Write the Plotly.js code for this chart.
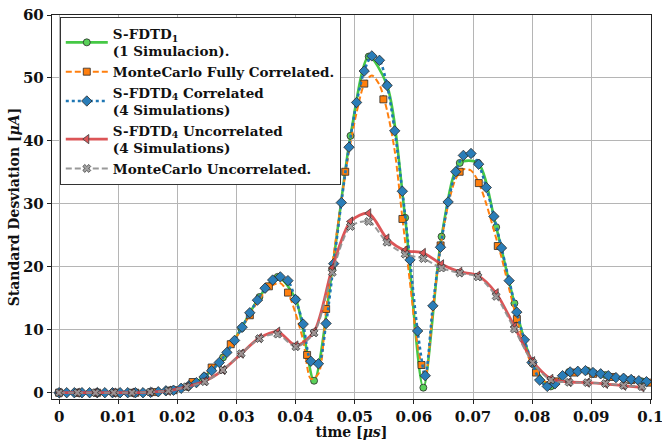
<!DOCTYPE html>
<html>
<head>
<meta charset="utf-8">
<script src="https://cdn.plot.ly/plotly-3.0.1.min.js"></script>
<style>html,body{margin:0;padding:0;background:#fff;}#chart{width:662px;height:440px;}</style>
</head>
<body>
<div id="chart"></div>
<script>
// Dense time grid (S-FDTD4 correlated samples / MonteCarlo fully correlated curve)
const tDense = [0, 0.00129, 0.00258, 0.00387, 0.00516, 0.00645, 0.00774, 0.00903, 0.01032, 0.01161,
  0.0129, 0.01419, 0.01548, 0.01677, 0.01806, 0.01935, 0.02064, 0.02193, 0.02322, 0.02451,
  0.0258, 0.02709, 0.02838, 0.02967, 0.03096, 0.03225, 0.03354, 0.03483, 0.03612, 0.03741,
  0.0387, 0.03999, 0.04128, 0.04257, 0.04386, 0.04515, 0.04644, 0.04773, 0.04902, 0.05031,
  0.0516, 0.05289, 0.05418, 0.05547, 0.05676, 0.05805, 0.05934, 0.06063, 0.06192, 0.06321,
  0.0645, 0.06579, 0.06708, 0.06837, 0.06966, 0.07095, 0.07224, 0.07353, 0.07482, 0.07611,
  0.0774, 0.07869, 0.07998, 0.08127, 0.08256, 0.08385, 0.08514, 0.08643, 0.08772, 0.08901,
  0.0903, 0.09159, 0.09288, 0.09417, 0.09546, 0.09675, 0.09804, 0.09933];

const sfdtd4Corr = [0, 0, 0, 0, 0, 0, 0, 0, 0, 0,
  0, 0, 0.05, 0.15, 0.3, 0.4, 0.7, 1.1, 1.6, 2.5,
  3.5, 4.8, 6.4, 8.3, 10.4, 12.7, 14.7, 16.6, 17.9, 18.4,
  17.8, 14.8, 10.9, 5.0, 4.6, 11.0, 20.5, 30.2, 39.0, 46.1,
  51.1, 53.5, 52.8, 48.8, 41.6, 32.0, 21.1, 9.8, 2.7, 13.8,
  23.1, 30.3, 35.1, 37.7, 38.0, 36.3, 32.6, 28.0, 23.0, 17.8,
  12.8, 8.4, 4.8, 2.0, 1.0, 1.4, 2.7, 3.3, 3.4, 3.5,
  3.2, 3.0, 2.7, 2.4, 2.3, 2.1, 1.9, 1.75];

const mcFullCurve = [0, 0, 0, 0, 0, 0, 0, 0, 0, 0,
  0, 0, 0.05, 0.1, 0.3, 0.45, 0.75, 1.25, 1.9, 2.8,
  3.9, 5.1, 6.6, 8.4, 10.3, 12.4, 14.4, 16.0, 17.1, 17.4,
  15.9, 12.6, 8.3, 2.2, 3.0, 13.2, 22.0, 30.5, 38.3, 44.5,
  49.0, 50.4, 48.9, 44.8, 38.4, 27.8, 17.5, 7.5, 2.5, 13.0,
  23.2, 29.8, 34.0, 35.5, 35.3, 33.4, 30.0, 25.8, 21.5, 16.5,
  11.7, 7.5, 4.3, 2.5, 1.6, 1.8, 2.6, 3.1, 3.2, 3.2,
  3.0, 2.8, 2.6, 2.4, 2.2, 2.0, 1.8, 1.7];

// MonteCarlo fully correlated marker samples
const tMc = [0, 0.00323, 0.00645, 0.00968, 0.0129, 0.01613, 0.01935, 0.02258, 0.0258, 0.02903,
  0.03226, 0.03548, 0.03871, 0.04194, 0.04516, 0.04839, 0.05161, 0.05484, 0.05806, 0.06129,
  0.06452, 0.06774, 0.07097, 0.07419, 0.07742, 0.08065, 0.08387, 0.0871, 0.09032, 0.09355,
  0.09677, 0.1];
const mcFullMarks = [0, 0, 0, 0, 0, 0.1, 0.4, 1.7, 4.0, 7.7,
  12.3, 16.9, 15.9, 6.0, 13.3, 35.1, 49.1, 46.6, 27.6, 4.4,
  23.4, 35.1, 33.3, 23.3, 11.7, 3.2, 1.8, 3.2, 3.0, 2.5,
  2.0, 1.6];

// S-FDTD1, S-FDTD4 uncorrelated and MonteCarlo uncorrelated samples
const tS = [0, 0.00308, 0.00616, 0.00924, 0.01232, 0.0154, 0.01848, 0.02156, 0.02464, 0.02772,
  0.0308, 0.03388, 0.03696, 0.04004, 0.04312, 0.0462, 0.04928, 0.05236, 0.05544, 0.05852,
  0.0616, 0.06468, 0.06776, 0.07084, 0.07392, 0.077, 0.08008, 0.08316, 0.08624, 0.08932,
  0.0924, 0.09548, 0.09856];
const sfdtd1 = [0, 0, 0, 0, 0, 0.1, 0.35, 0.95, 2.6, 5.6,
  10.2, 15.2, 18.4, 14.8, 1.9, 19.6, 40.8, 53.4, 48.9, 27.8,
  0.8, 24.8, 36.5, 36.5, 26.3, 14.2, 4.6, 1.0, 3.3, 3.5,
  2.8, 2.3, 1.8];
const sfdtd4Unc = [0, 0, 0, 0, 0, 0.1, 0.3, 0.95, 1.85, 3.6,
  6.2, 8.7, 9.7, 7.5, 9.7, 19.8, 27.2, 28.5, 24.5, 22.6,
  22.2, 20.4, 19.2, 18.6, 15.8, 10.5, 5.0, 2.2, 1.7, 1.6,
  1.4, 1.1, 0.85];
const mcUnc = [0, 0, 0, 0, 0, 0.1, 0.3, 0.95, 1.75, 3.6,
  6.2, 8.6, 9.3, 7.3, 9.5, 19.1, 26.4, 27.2, 23.9, 22.0,
  21.3, 19.8, 19.0, 18.4, 15.3, 10.1, 4.8, 2.0, 1.65, 1.6,
  1.45, 1.15, 0.95];

const xTicks = [0, 0.01, 0.02, 0.03, 0.04, 0.05, 0.06, 0.07, 0.08, 0.09, 0.1];
const xTickText = ['0', '0.01', '0.02', '0.03', '0.04', '0.05', '0.06', '0.07', '0.08', '0.09', '0.1'];
const yTicks = [0, 10, 20, 30, 40, 50, 60];

const names = [
  'S-FDTD<sub>1</sub><br>(1 Simulacion).',
  'MonteCarlo Fully Correlated.',
  'S-FDTD<sub>4</sub> Correlated<br>(4 Simulations)',
  'S-FDTD<sub>4</sub> Uncorrelated<br>(4 Simulations)',
  'MonteCarlo Uncorrelated.'
];

const edge = {color: '#2a2a2a', width: 0.8};
const cGreen = '#45c845', cOrange = '#ff7f0e', cBlue = '#1f77b4', cRed = '#d94345', cGray = '#8f8f8f';

const traces = [
  {x: tS, y: sfdtd1, name: names[0], mode: 'lines+markers',
   line: {color: cGreen, width: 2.6, shape: 'spline', smoothing: 0.8},
   marker: {symbol: 'circle', size: 7, color: '#5ad15a', line: edge}},
  // legend entry for the MonteCarlo fully correlated curve
  {x: [null], y: [null], name: names[1], mode: 'lines+markers',
   line: {color: cOrange, width: 2, dash: '6px,3px'},
   marker: {symbol: 'square', size: 7, color: cOrange, line: edge}},
  {x: tDense, y: mcFullCurve, name: names[1], mode: 'lines', showlegend: false,
   line: {color: cOrange, width: 2, dash: '6px,3px', shape: 'spline', smoothing: 0.8}},
  {x: tMc, y: mcFullMarks, name: names[1], mode: 'markers', showlegend: false,
   marker: {symbol: 'square', size: 7, color: cOrange, line: edge}},
  {x: tDense, y: sfdtd4Corr, name: names[2], mode: 'lines+markers',
   line: {color: cBlue, width: 2.6, dash: 'dot', shape: 'spline', smoothing: 0.8},
   marker: {symbol: 'diamond', size: 8, color: '#2a7db8', line: edge}},
  {x: tS, y: sfdtd4Unc, name: names[3], mode: 'lines+markers', opacity: 0.9,
   line: {color: cRed, width: 2.8, shape: 'spline', smoothing: 0.8},
   marker: {symbol: 'triangle-left', size: 8, color: cRed, line: edge}},
  {x: tS, y: mcUnc, name: names[4], mode: 'lines+markers', opacity: 0.9,
   line: {color: cGray, width: 2, dash: '6px,3px', shape: 'spline', smoothing: 0.8},
   marker: {symbol: 'x', size: 7, color: '#9a9a9a', line: edge}}
];

const axisFont = {family: 'DejaVu Serif', size: 15, color: '#111', weight: 'bold'};
const titleFont = {family: 'DejaVu Serif', size: 14, color: '#111', weight: 'bold'};

const layout = {
  width: 662, height: 440,
  margin: {l: 52, r: 11, t: 15, b: 41},
  paper_bgcolor: '#fff', plot_bgcolor: '#fff',
  showlegend: true,
  legend: {x: 0.013, y: 0.994, xanchor: 'left', yanchor: 'top',
    bgcolor: '#fff', bordercolor: '#333', borderwidth: 1, itemwidth: 42,
    font: {family: 'DejaVu Serif', size: 13.5, color: '#111', weight: 'bold'}},
  xaxis: {range: [-0.0012, 0.1001], tickvals: xTicks, ticktext: xTickText,
    ticklabeloverflow: 'allow',
    showgrid: true, gridcolor: '#b5b5b5', gridwidth: 1, zeroline: false,
    showline: true, mirror: true, linecolor: '#222', linewidth: 1.2,
    ticks: 'outside', ticklen: 4, tickcolor: '#222', tickfont: axisFont,
    title: {text: 'time [<i>μs</i>]', font: titleFont, standoff: 0}},
  yaxis: {range: [-1, 60], tickvals: yTicks,
    showgrid: true, gridcolor: '#b5b5b5', gridwidth: 1, zeroline: false,
    showline: true, mirror: true, linecolor: '#222', linewidth: 1.2,
    ticks: 'outside', ticklen: 4, tickcolor: '#222', tickfont: axisFont,
    title: {text: 'Standard Desviation [<i>μA</i>]', font: titleFont, standoff: 0}}
};

Plotly.newPlot('chart', traces, layout, {displayModeBar: false, staticPlot: true});
</script>
</body>
</html>
